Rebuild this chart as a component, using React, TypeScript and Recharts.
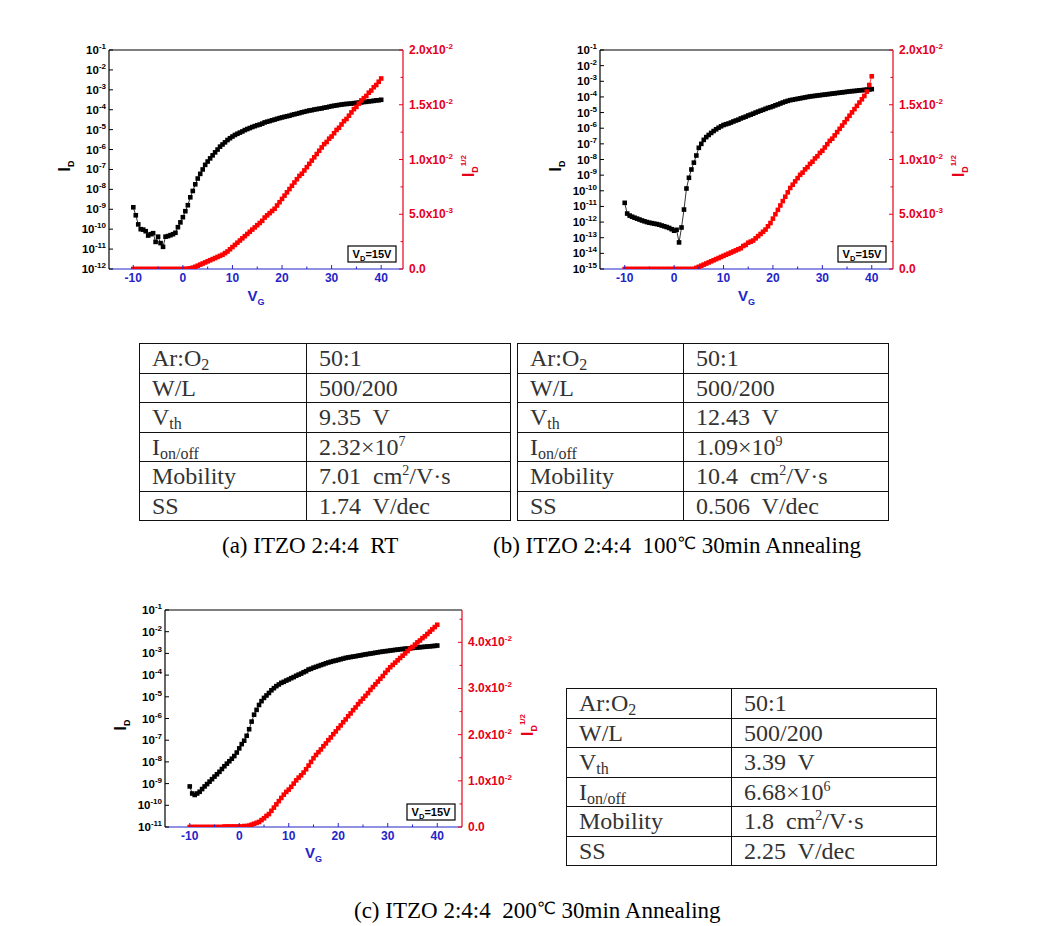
import { ComposedChart, Line, XAxis, YAxis, ReferenceLine } from 'recharts'

const BLUE = '#2424c8'
const RED = '#ff0000'
const RED_TEXT = '#e6001a'
const AXIS_FONT = "'Liberation Sans', Arial, sans-serif"

// gate voltage sweep, -10 V .. 40 V, 0.5 V steps
const vg = [
  -10, -9.5, -9, -8.5, -8, -7.5, -7, -6.5, -6, -5.5,
  -5, -4.5, -4, -3.5, -3, -2.5, -2, -1.5, -1, -0.5,
  0, 0.5, 1, 1.5, 2, 2.5, 3, 3.5, 4, 4.5,
  5, 5.5, 6, 6.5, 7, 7.5, 8, 8.5, 9, 9.5,
  10, 10.5, 11, 11.5, 12, 12.5, 13, 13.5, 14, 14.5,
  15, 15.5, 16, 16.5, 17, 17.5, 18, 18.5, 19, 19.5,
  20, 20.5, 21, 21.5, 22, 22.5, 23, 23.5, 24, 24.5,
  25, 25.5, 26, 26.5, 27, 27.5, 28, 28.5, 29, 29.5,
  30, 30.5, 31, 31.5, 32, 32.5, 33, 33.5, 34, 34.5,
  35, 35.5, 36, 36.5, 37, 37.5, 38, 38.5, 39, 39.5,
  40,
]

// (a) RT
const idA = [
  1.26e-9, 5e-10, 1.74e-10, 1e-10, 9.5e-11, 7.9e-11, 4.8e-11, 5.6e-11, 6.3e-11, 2.3e-11,
  4.2e-11, 2e-11, 1.3e-11, 4.2e-11, 4.5e-11, 5e-11, 5.6e-11, 6.6e-11, 1.26e-10, 2.2e-10,
  4e-10, 8e-10, 1.6e-9, 4e-9, 8.3e-9, 1.8e-8, 3.5e-8, 6e-8, 1e-7, 1.7e-7,
  2.5e-7, 3.6e-7, 5.1e-7, 7.2e-7, 1e-6, 1.4e-6, 1.8e-6, 2.3e-6, 3e-6, 3.7e-6,
  4.5e-6, 5.4e-6, 6.2e-6, 7.1e-6, 8.1e-6, 9.5e-6, 1.07e-5, 1.2e-5, 1.35e-5, 1.5e-5,
  1.66e-5, 1.8e-5, 2e-5, 2.3e-5, 2.5e-5, 2.7e-5, 2.95e-5, 3.2e-5, 3.5e-5, 3.8e-5,
  4.1e-5, 4.4e-5, 4.7e-5, 5e-5, 5.5e-5, 5.9e-5, 6.3e-5, 6.8e-5, 7.4e-5, 7.9e-5,
  8.5e-5, 9.1e-5, 9.5e-5, 1.02e-4, 1.07e-4, 1.12e-4, 1.17e-4, 1.26e-4, 1.32e-4, 1.41e-4,
  1.51e-4, 1.58e-4, 1.66e-4, 1.74e-4, 1.82e-4, 1.9e-4, 1.95e-4, 2e-4, 2.04e-4, 2.14e-4,
  2.2e-4, 2.3e-4, 2.34e-4, 2.45e-4, 2.5e-4, 2.63e-4, 2.7e-4, 2.8e-4, 2.95e-4, 3e-4,
  3.16e-4,
]
const sqA = [
  0, 0, 0, 0, 0, 0, 0, 0, 0, 0,
  0, 0, 0, 0, 0, 0, 0, 0, 0, 0,
  0, 0.00001, 0.00003, 0.00006, 0.00012, 0.0002, 0.0003, 0.0004, 0.0005, 0.0006,
  0.0007, 0.0008, 0.0009, 0.001, 0.0011, 0.0012, 0.0013, 0.00145, 0.0016, 0.0018,
  0.002, 0.0022, 0.0024, 0.0026, 0.0028, 0.003, 0.0032, 0.0034, 0.0036, 0.0038,
  0.004, 0.0042, 0.0044, 0.0047, 0.0049, 0.0051, 0.0053, 0.0055, 0.0058, 0.0061,
  0.0064, 0.0067, 0.007, 0.0073, 0.0076, 0.0079, 0.0082, 0.0085, 0.0087, 0.009,
  0.0093, 0.0096, 0.0099, 0.0102, 0.0105, 0.0108, 0.0111, 0.0114, 0.0116, 0.0119,
  0.0121, 0.0124, 0.0127, 0.0129, 0.0132, 0.0135, 0.0137, 0.014, 0.0143, 0.0146,
  0.0148, 0.0151, 0.0154, 0.0156, 0.0158, 0.0161, 0.0163, 0.0166, 0.0168, 0.0171,
  0.0174,
]

// (b) 100C 30min
const idB = [
  1.7e-11, 3.5e-12, 2.6e-12, 2.2e-12, 1.9e-12, 1.66e-12, 1.45e-12, 1.26e-12, 1.12e-12, 1e-12,
  9.1e-13, 8.5e-13, 7.9e-13, 7.4e-13, 6.8e-13, 6e-13, 5.4e-13, 4.8e-13, 4.2e-13, 3.5e-13,
  2.8e-13, 3.2e-13, 5e-14, 4.5e-13, 6.3e-12, 1.4e-10, 6.8e-10, 2.3e-9, 6.3e-9, 1.8e-8,
  5.6e-8, 1e-7, 1.8e-7, 2.7e-7, 3.7e-7, 5e-7, 6.6e-7, 8.5e-7, 1.07e-6, 1.32e-6,
  1.6e-6, 1.8e-6, 2e-6, 2.3e-6, 2.7e-6, 3.1e-6, 3.5e-6, 4.2e-6, 4.8e-6, 5.5e-6,
  6.5e-6, 7.4e-6, 8.5e-6, 1e-5, 1.15e-5, 1.32e-5, 1.5e-5, 1.74e-5, 2e-5, 2.2e-5,
  2.5e-5, 2.9e-5, 3.3e-5, 3.8e-5, 4.4e-5, 5e-5, 5.6e-5, 6.2e-5, 6.6e-5, 7.1e-5,
  7.6e-5, 8.1e-5, 8.7e-5, 9.3e-5, 1e-4, 1.07e-4, 1.12e-4, 1.17e-4, 1.23e-4, 1.29e-4,
  1.35e-4, 1.41e-4, 1.48e-4, 1.55e-4, 1.62e-4, 1.7e-4, 1.78e-4, 1.86e-4, 1.95e-4, 2.04e-4,
  2.14e-4, 2.24e-4, 2.34e-4, 2.4e-4, 2.5e-4, 2.63e-4, 2.7e-4, 2.8e-4, 2.95e-4, 3e-4,
  3.16e-4,
]
const sqB = [
  0, 0, 0, 0, 0, 0, 0, 0, 0, 0,
  0, 0, 0, 0, 0, 0, 0, 0, 0, 0,
  0, 0, 0, 0, 0, 0, 0, 0, 0, 0.0001,
  0.0002, 0.0003, 0.0004, 0.0005, 0.0006, 0.0007, 0.0008, 0.0009, 0.001, 0.0011,
  0.0012, 0.0013, 0.0014, 0.0015, 0.0016, 0.0017, 0.0018, 0.0019, 0.0021, 0.0022,
  0.0024, 0.0025, 0.0026, 0.0028, 0.003, 0.0032, 0.0034, 0.0036, 0.0039, 0.0042,
  0.0046, 0.005, 0.0054, 0.0058, 0.0062, 0.0066, 0.007, 0.0074, 0.0077, 0.008,
  0.0083, 0.0086, 0.0088, 0.0091, 0.0093, 0.0096, 0.0098, 0.0101, 0.0103, 0.0106,
  0.0108, 0.0111, 0.0114, 0.0117, 0.0119, 0.0122, 0.0125, 0.0128, 0.0131, 0.0134,
  0.0137, 0.014, 0.0143, 0.0146, 0.0149, 0.0152, 0.0155, 0.0158, 0.0162, 0.0168,
  0.0176,
]

// (c) 200C 30min
const idC = [
  7.4e-10, 3.5e-10, 3e-10, 3.5e-10, 4.2e-10, 5.6e-10, 7.4e-10, 9.5e-10, 1.23e-9, 1.6e-9,
  2.1e-9, 2.7e-9, 3.5e-9, 4.7e-9, 6.3e-9, 8.3e-9, 1.07e-8, 1.4e-8, 1.86e-8, 2.7e-8,
  4.2e-8, 6.6e-8, 9.5e-8, 1.6e-7, 3.2e-7, 7.2e-7, 1.5e-6, 2.5e-6, 4.2e-6, 6.3e-6,
  8.9e-6, 1.15e-5, 1.5e-5, 2e-5, 2.5e-5, 3.1e-5, 3.7e-5, 4.4e-5, 4.9e-5, 5.6e-5,
  6.3e-5, 7.2e-5, 8.1e-5, 9.3e-5, 1.05e-4, 1.17e-4, 1.35e-4, 1.51e-4, 1.8e-4, 1.95e-4,
  2.2e-4, 2.4e-4, 2.63e-4, 2.9e-4, 3.16e-4, 3.5e-4, 3.8e-4, 4.1e-4, 4.4e-4, 4.7e-4,
  5e-4, 5.4e-4, 5.75e-4, 6.2e-4, 6.5e-4, 6.8e-4, 7.1e-4, 7.4e-4, 7.8e-4, 8.1e-4,
  8.6e-4, 9e-4, 9.4e-4, 9.8e-4, 1.02e-3, 1.07e-3, 1.12e-3, 1.17e-3, 1.22e-3, 1.26e-3,
  1.3e-3, 1.35e-3, 1.4e-3, 1.45e-3, 1.5e-3, 1.55e-3, 1.6e-3, 1.64e-3, 1.68e-3, 1.72e-3,
  1.78e-3, 1.82e-3, 1.87e-3, 1.92e-3, 1.97e-3, 2.02e-3, 2.07e-3, 2.12e-3, 2.17e-3, 2.22e-3,
  2.3e-3,
]
const sqC = [
  0, 0, 0, 0, 0, 0, 0, 0, 0, 0,
  0, 0, 0, 0, 0.0001, 0.0001, 0.0001, 0.0001, 0.0001, 0.0001,
  0.0001, 0.0001, 0.0002, 0.0002, 0.0003, 0.0005, 0.0007, 0.0009, 0.0011, 0.0015,
  0.0019, 0.0024, 0.0028, 0.0035, 0.0042, 0.0049, 0.0056, 0.0063, 0.007, 0.0076,
  0.0081, 0.0087, 0.0094, 0.0101, 0.0107, 0.0112, 0.0118, 0.0125, 0.0133, 0.0141,
  0.0149, 0.0156, 0.0162, 0.0168, 0.0175, 0.0181, 0.0188, 0.0194, 0.0201, 0.0207,
  0.0214, 0.022, 0.0227, 0.0233, 0.024, 0.0246, 0.0253, 0.0259, 0.0266, 0.0272,
  0.0278, 0.0284, 0.029, 0.0297, 0.0303, 0.0309, 0.0315, 0.0321, 0.0327, 0.0334,
  0.034, 0.0346, 0.0351, 0.0356, 0.0361, 0.0366, 0.0371, 0.0376, 0.0381, 0.0386,
  0.039, 0.0395, 0.04, 0.0404, 0.0409, 0.0413, 0.0418, 0.0423, 0.0428, 0.0433,
  0.0438,
]

// axis ticks
const vgTicks = [-10, -5, 0, 5, 10, 15, 20, 25, 30, 35, 40]
const logTicksA = [1e-12, 1e-11, 1e-10, 1e-9, 1e-8, 1e-7, 1e-6, 1e-5, 1e-4, 1e-3, 1e-2, 1e-1]
const logTicksB = [1e-15, 1e-14, 1e-13, 1e-12, 1e-11, 1e-10, 1e-9, 1e-8, 1e-7, 1e-6, 1e-5, 1e-4, 1e-3, 1e-2, 1e-1]
const logTicksC = [1e-11, 1e-10, 1e-9, 1e-8, 1e-7, 1e-6, 1e-5, 1e-4, 1e-3, 1e-2, 1e-1]
const sqTicksAB = [0, 0.0025, 0.005, 0.0075, 0.01, 0.0125, 0.015, 0.0175, 0.02]
const sqTicksC = [0, 0.005, 0.01, 0.015, 0.02, 0.025, 0.03, 0.035, 0.04, 0.045]

// table rows
const paramNames = ['Ar:O_{2}', 'W/L', 'V_{th}', 'I_{on/off}', 'Mobility', 'SS']
const valuesA = ['50:1', '500/200', '9.35  V', '2.32×10^{7}', '7.01  cm^{2}/V·s', '1.74  V/dec']
const valuesB = ['50:1', '500/200', '12.43  V', '1.09×10^{9}', '10.4  cm^{2}/V·s', '0.506  V/dec']
const valuesC = ['50:1', '500/200', '3.39  V', '6.68×10^{6}', '1.8  cm^{2}/V·s', '2.25  V/dec']

const PAD_L = 70
const PAD_T = 20
const PAD_R = 100
const PAD_B = 45

function BottomTick(props: any) {
  const { x, y, payload } = props
  const v = payload.value
  const major = v % 10 === 0
  return (
    <g>
      <line x1={x} x2={x} y1={y} y2={y - (major ? 4 : 2.5)} stroke={BLUE} />
      {major && (
        <text x={x} y={y + 13} textAnchor="middle" fill={BLUE} fontSize={12} fontWeight="bold" fontFamily={AXIS_FONT}>
          {v}
        </text>
      )}
    </g>
  )
}

function LeftTick(props: any) {
  const { x, y, payload } = props
  const e = Math.round(Math.log10(payload.value))
  return (
    <g>
      <line x1={x} x2={x + 4} y1={y} y2={y} stroke="#000" />
      <text x={x - 3} y={y + 4} textAnchor="end" fill="#000" fontSize={11.5} fontWeight="bold" fontFamily={AXIS_FONT}>
        10<tspan dy={-5} fontSize={8}>{e}</tspan>
      </text>
    </g>
  )
}

const makeRightTick = (step: number) => (props: any) => {
  const { x, y, payload } = props
  const v = payload.value
  const major = Math.abs(v / step - Math.round(v / step)) < 1e-6
  let label = null
  if (major) {
    if (v === 0) {
      label = <tspan>0.0</tspan>
    } else {
      const e = Math.floor(Math.log10(v) + 1e-9)
      const m = (v / Math.pow(10, e)).toFixed(1)
      label = (
        <>
          <tspan>{m}x10</tspan>
          <tspan dy={-5} fontSize={8}>{e}</tspan>
        </>
      )
    }
  }
  return (
    <g>
      <line x1={x} x2={x - (major ? 4 : 2.5)} y1={y} y2={y} stroke={RED_TEXT} />
      {label && (
        <text x={x + 6} y={y + 4} textAnchor="start" fill={RED_TEXT} fontSize={12} fontWeight="bold" fontFamily={AXIS_FONT}>
          {label}
        </text>
      )}
    </g>
  )
}

const squareDot = (color: string) => (props: any) => {
  const { cx, cy, index } = props
  if (cx == null || cy == null) return <g key={index} />
  return <rect key={index} x={cx - 2.3} y={cy - 2.3} width={4.6} height={4.6} fill={color} />
}

type PlotProps = {
  left: number
  top: number
  plotW: number
  plotH: number
  id: number[]
  sq: number[]
  vgDomain: [number, number]
  logTicks: number[]
  sqTicks: number[]
  sqStep: number
  sqMax: number
  labelDy: number
}

function TransferPlot(p: PlotProps) {
  const data = vg.map((v, i) => ({ vg: v, id: p.id[i], sq: p.sq[i] }))
  const W = p.plotW + PAD_L + PAD_R
  const H = p.plotH + PAD_T + PAD_B
  const logMin = p.logTicks[0]
  const logMax = p.logTicks[p.logTicks.length - 1]
  const px0 = PAD_L
  const py0 = PAD_T
  const boxW = 48
  const boxH = 16
  const boxX = px0 + p.plotW - 7 - boxW
  const boxY = py0 + p.plotH - 7 - boxH
  return (
    <div style={{ position: 'absolute', left: p.left - PAD_L, top: p.top - PAD_T, width: W, height: H }}>
      <ComposedChart width={W} height={H} data={data} margin={{ top: PAD_T, right: 0, bottom: 0, left: 0 }}>
        <XAxis
          type="number"
          dataKey="vg"
          domain={p.vgDomain}
          ticks={vgTicks}
          interval={0}
          height={PAD_B}
          tickSize={0}
          tickMargin={0}
          tickLine={false}
          axisLine={{ stroke: BLUE, strokeWidth: 1.2 }}
          tick={BottomTick}
          allowDataOverflow
        />
        <YAxis
          yAxisId="id"
          orientation="left"
          type="number"
          scale="log"
          domain={[logMin, logMax]}
          ticks={p.logTicks}
          interval={0}
          width={PAD_L}
          tickSize={0}
          tickMargin={0}
          tickLine={false}
          axisLine={{ stroke: '#000', strokeWidth: 1.2 }}
          tick={LeftTick}
          allowDataOverflow
        />
        <YAxis
          yAxisId="sq"
          orientation="right"
          type="number"
          domain={[0, p.sqMax]}
          ticks={p.sqTicks}
          interval={0}
          width={PAD_R}
          tickSize={0}
          tickMargin={0}
          tickLine={false}
          axisLine={{ stroke: RED_TEXT, strokeWidth: 1.2 }}
          tick={makeRightTick(p.sqStep)}
          allowDataOverflow
        />
        {/* top frame line */}
        <ReferenceLine yAxisId="id" y={logMax} stroke="#000" strokeWidth={1.2} ifOverflow="visible" />
        <Line
          yAxisId="id"
          dataKey="id"
          stroke="#000"
          strokeWidth={0.8}
          dot={squareDot('#000')}
          activeDot={false}
          isAnimationActive={false}
        />
        <Line
          yAxisId="sq"
          dataKey="sq"
          stroke={RED}
          strokeWidth={0.8}
          dot={squareDot(RED)}
          activeDot={false}
          isAnimationActive={false}
        />
      </ComposedChart>
      <svg width={W} height={H} style={{ position: 'absolute', left: 0, top: 0, pointerEvents: 'none' }}>
        {/* left title I_D */}
        <text
          transform={`translate(${px0 - 39},${py0 + p.plotH * 0.53}) rotate(-90)`}
          textAnchor="middle"
          fontFamily={AXIS_FONT}
          fontWeight="bold"
          fill="#000"
        >
          <tspan fontSize={16}>I</tspan>
          <tspan fontSize={9} dy={4}>D</tspan>
        </text>
        {/* right title I_D^1/2 */}
        <text
          transform={`translate(${px0 + p.plotW + 71},${py0 + p.plotH * 0.53}) rotate(-90)`}
          textAnchor="middle"
          fontFamily={AXIS_FONT}
          fontWeight="bold"
          fill={RED_TEXT}
        >
          <tspan fontSize={16}>I</tspan>
          <tspan fontSize={9} dy={4}>D</tspan>
          <tspan fontSize={8} dy={-12}>1/2</tspan>
        </text>
        {/* bottom title V_G */}
        <text
          x={px0 + p.plotW / 2}
          y={py0 + p.plotH + p.labelDy}
          textAnchor="middle"
          fontFamily={AXIS_FONT}
          fontWeight="bold"
          fill={BLUE}
        >
          <tspan fontSize={15}>V</tspan>
          <tspan fontSize={9} dy={4}>G</tspan>
        </text>
        {/* V_D box */}
        <rect x={boxX} y={boxY} width={boxW} height={boxH} fill="#fff" stroke="#000" strokeWidth={1.2} />
        <text x={boxX + boxW / 2} y={boxY + 12} textAnchor="middle" fontFamily={AXIS_FONT} fontWeight="bold" fontSize={11} fill="#000">
          <tspan>V</tspan>
          <tspan fontSize={7.5} dy={3}>D</tspan>
          <tspan dy={-3}>=15V</tspan>
        </text>
      </svg>
    </div>
  )
}

function rich(text: string) {
  const parts = text.split(/(_\{[^}]*\}|\^\{[^}]*\})/)
  return parts.map((s, i) => {
    if (s.startsWith('_{')) {
      return (
        <span key={i} style={{ fontSize: 16, lineHeight: 0, position: 'relative', top: 4 }}>
          {s.slice(2, -1)}
        </span>
      )
    }
    if (s.startsWith('^{')) {
      return (
        <span key={i} style={{ fontSize: 14, lineHeight: 0, position: 'relative', top: -9 }}>
          {s.slice(2, -1)}
        </span>
      )
    }
    return <span key={i}>{s}</span>
  })
}

function ParamTable({ left, top, width, col, values }: { left: number; top: number; width: number; col: number; values: string[] }) {
  const cell: React.CSSProperties = {
    border: '1.5px solid #111',
    padding: 0,
  }
  const inner: React.CSSProperties = {
    boxSizing: 'border-box',
    height: 28.5,
    paddingTop: 1,
    paddingLeft: 12,
    fontFamily: "'Liberation Serif', serif",
    fontSize: 24,
    color: '#333',
    lineHeight: '26px',
    whiteSpace: 'pre',
  }
  return (
    <table
      style={{
        position: 'absolute',
        left,
        top,
        width,
        borderCollapse: 'collapse',
        tableLayout: 'fixed',
      }}
    >
      <colgroup>
        <col style={{ width: col }} />
        <col />
      </colgroup>
      <tbody>
        {paramNames.map((n, i) => (
          <tr key={n}>
            <td style={cell}>
              <div style={inner}>{rich(n)}</div>
            </td>
            <td style={cell}>
              <div style={inner}>{rich(values[i])}</div>
            </td>
          </tr>
        ))}
      </tbody>
    </table>
  )
}

const captionStyle: React.CSSProperties = {
  position: 'absolute',
  fontFamily: "'Liberation Serif', 'Times New Roman', serif",
  fontSize: 23,
  lineHeight: '24px',
  color: '#000',
  whiteSpace: 'pre',
}

const degC = (
  <span style={{ fontSize: 17, position: 'relative', top: -4, fontFamily: "'DejaVu Sans', sans-serif" }}>℃</span>
)

export default function App() {
  return (
    <div style={{ position: 'absolute', left: 0, top: 0, width: 1051, height: 926, background: '#fff', overflow: 'hidden' }}>
      <TransferPlot
        left={109}
        top={50}
        plotW={294}
        plotH={219}
        id={idA}
        sq={sqA}
        vgDomain={[-14.9, 44.4]}
        logTicks={logTicksA}
        sqTicks={sqTicksAB}
        sqStep={0.005}
        sqMax={0.02}
        labelDy={32}
      />
      <TransferPlot
        left={600}
        top={50}
        plotW={293}
        plotH={219}
        id={idB}
        sq={sqB}
        vgDomain={[-15, 44.3]}
        logTicks={logTicksB}
        sqTicks={sqTicksAB}
        sqStep={0.005}
        sqMax={0.02}
        labelDy={32}
      />
      <TransferPlot
        left={165}
        top={610}
        plotW={297}
        plotH={217}
        id={idC}
        sq={sqC}
        vgDomain={[-15, 45]}
        logTicks={logTicksC}
        sqTicks={sqTicksC}
        sqStep={0.01}
        sqMax={0.047}
        labelDy={31}
      />

      <ParamTable left={139} top={343} width={372} col={167} values={valuesA} />
      <ParamTable left={517} top={343} width={372} col={166} values={valuesB} />
      <ParamTable left={566} top={688} width={371} col={165} values={valuesC} />

      <div style={{ ...captionStyle, left: 222, top: 534 }}>{'(a) ITZO 2:4:4  RT'}</div>
      <div style={{ ...captionStyle, left: 493, top: 534 }}>
        {'(b) ITZO 2:4:4  100'}
        {degC}
        {' 30min Annealing'}
      </div>
      <div style={{ ...captionStyle, left: 354, top: 899 }}>
        {'(c) ITZO 2:4:4  200'}
        {degC}
        {' 30min Annealing'}
      </div>
    </div>
  )
}
